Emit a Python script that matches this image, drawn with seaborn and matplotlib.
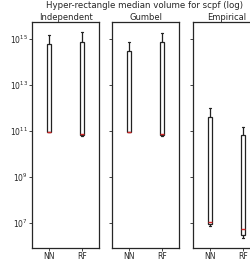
import pandas as pd
import seaborn as sns
import matplotlib.pyplot as plt
from matplotlib.ticker import NullLocator

# five-number summaries (log10): low whisker, q1, median, q3, high whisker
panels = ["Independent", "Gumbel", "Empirical"]
models = ["NN", "RF"]
ind_nn = [10.95, 10.97, 10.97, 14.78, 15.17]
ind_rf = [10.80, 10.84, 10.87, 14.87, 15.30]
gum_nn = [10.95, 10.97, 10.98, 14.48, 14.87]
gum_rf = [10.80, 10.84, 10.87, 14.87, 15.26]
emp_nn = [6.88, 6.96, 7.04, 11.60, 12.00]
emp_rf = [6.38, 6.50, 6.76, 10.84, 11.20]
yticks = [1e7, 1e9, 1e11, 1e13, 1e15]

summaries = {
    ("Independent", "NN"): ind_nn, ("Independent", "RF"): ind_rf,
    ("Gumbel", "NN"): gum_nn, ("Gumbel", "RF"): gum_rf,
    ("Empirical", "NN"): emp_nn, ("Empirical", "RF"): emp_rf,
}
rows = []
for (p, m), vals in summaries.items():
    for v in vals:
        rows.append({"panel": p, "model": m, "value": 10 ** v})
df = pd.DataFrame(rows)

sns.set_style("ticks")
plt.rcParams["font.family"] = ["DejaVu Sans"]

fig = plt.figure(figsize=(2.5, 2.61), dpi=100)
lefts = [0.128, 0.448, 0.772]
axes = []
for i, p in enumerate(panels):
    ax = fig.add_axes([lefts[i], 0.050, 0.268, 0.866], sharey=axes[0] if axes else None)
    axes.append(ax)
    sub = df[df["panel"] == p]
    sns.boxplot(data=sub, x="model", y="value", order=models, ax=ax, log_scale=True,
                whis=(0, 100), width=0.13, color="white", linecolor="#222222",
                linewidth=0.9, medianprops={"color": "#d62728", "linewidth": 1.0},
                showfliers=False)
    ax.set_title(p, fontsize=6, pad=1)
    ax.set_xlabel("")
    ax.set_ylabel("")
    ax.set_xlim(-0.5, 1.5)
    for s in ax.spines.values():
        s.set_visible(True)
        s.set_linewidth(0.9)
    ax.tick_params(labelsize=5.5, length=2, width=0.6, pad=1)
    ax.set_yticks(yticks)
    ax.yaxis.set_minor_locator(NullLocator())
    if i > 0:
        ax.tick_params(axis="y", labelleft=False)

axes[0].set_ylim(10 ** 5.93, 10 ** 15.74)
fig.text(0.578, 0.995, "Hyper-rectangle median volume for scpf (log)", ha="center",
         va="top", fontsize=6.2)

fig.savefig("out.png", dpi=100)
